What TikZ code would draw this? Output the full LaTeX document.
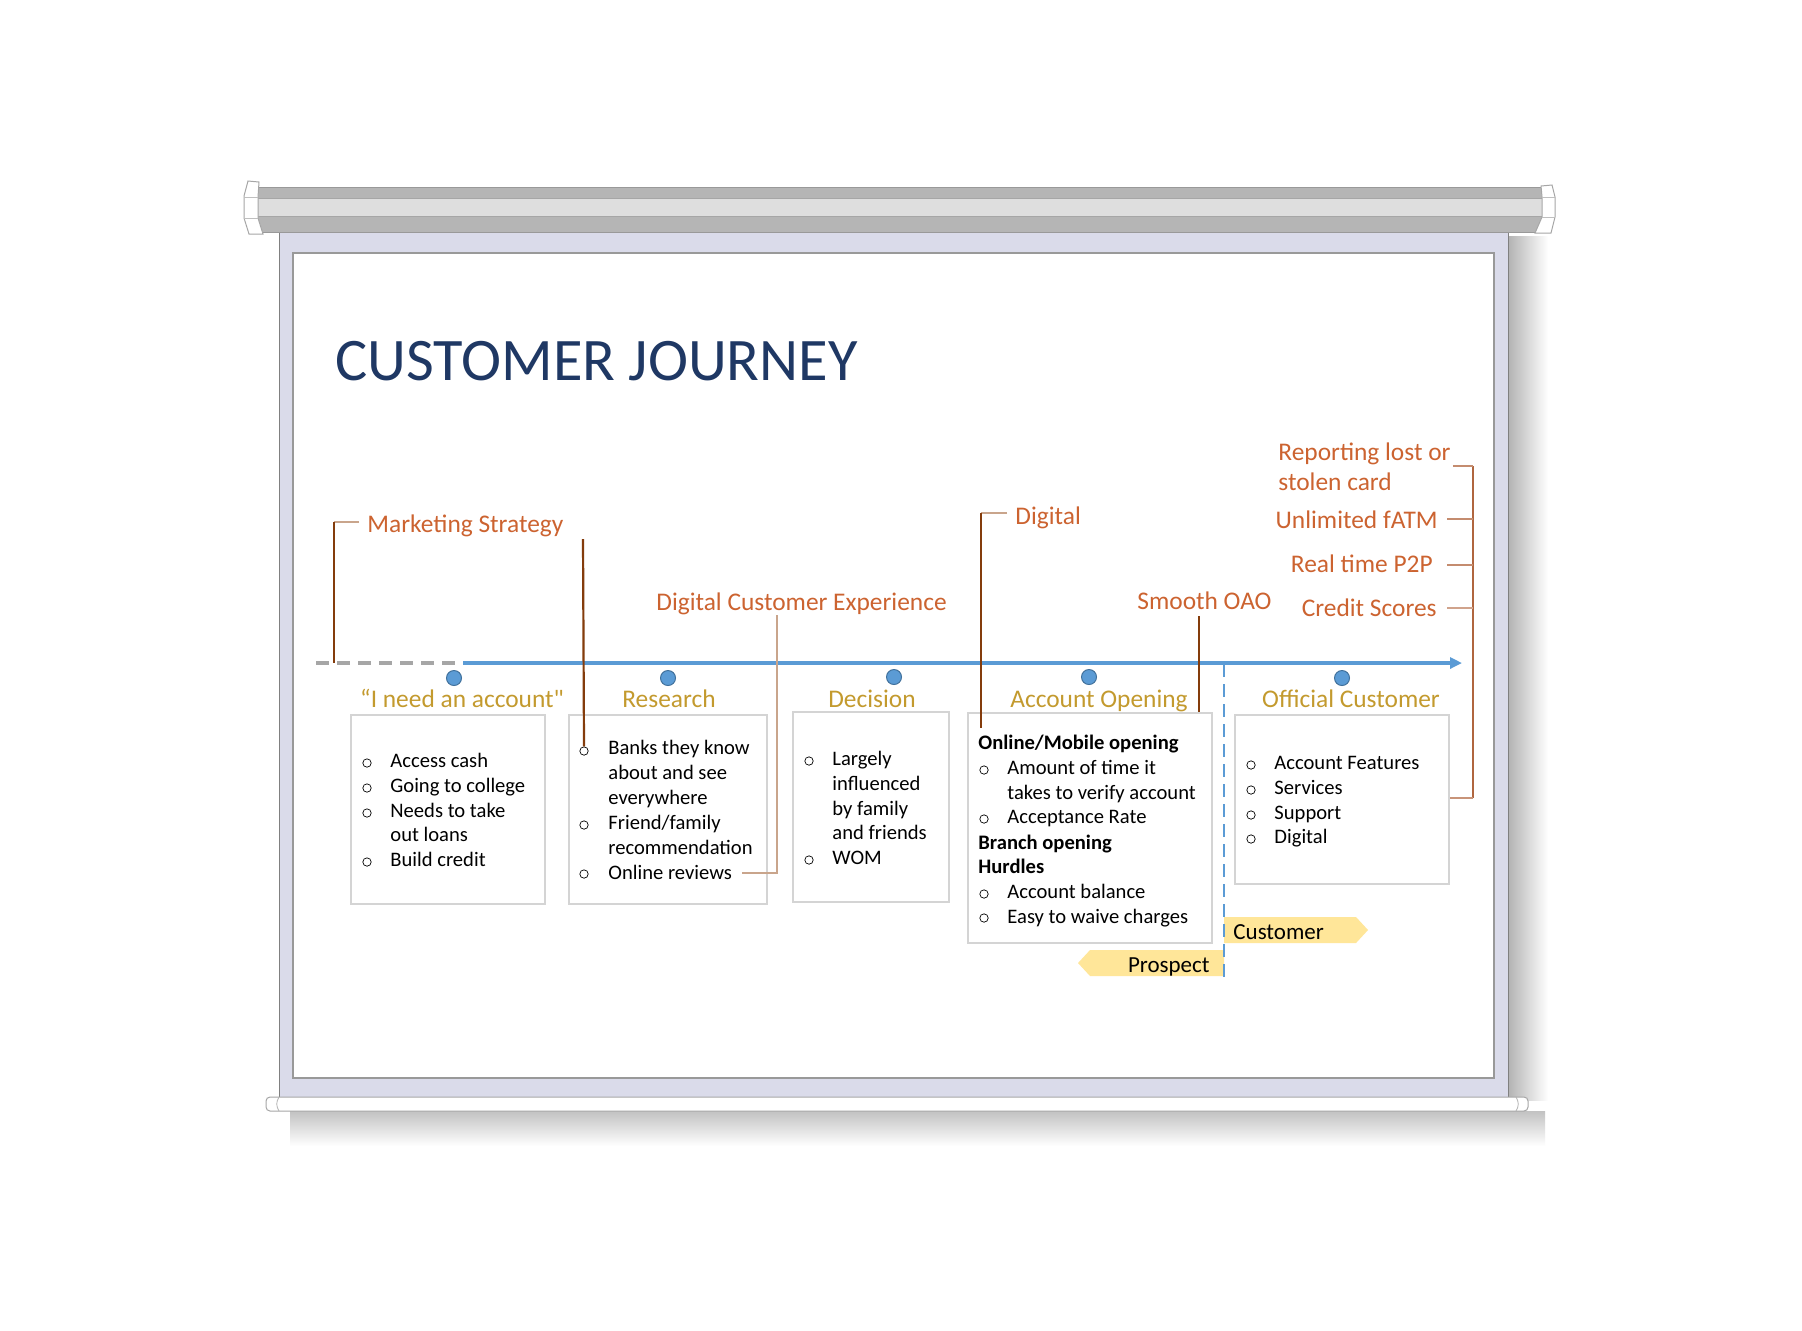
\documentclass[tikz,border=0pt]{standalone}
\usepackage{fontspec}
\setmainfont{Carlito}
\usetikzlibrary{arrows.meta,calc,fit}
\definecolor{navy}{HTML}{1F3864}
\definecolor{orng}{HTML}{CC6330}
\definecolor{goldt}{HTML}{C39A2E}
\definecolor{dbrown}{HTML}{843C0C}
\definecolor{tanl}{HTML}{C9A58C}
\definecolor{mbrown}{HTML}{B0663F}
\definecolor{blu}{HTML}{5B9BD5}
\definecolor{blud}{HTML}{41719C}
\definecolor{lav}{HTML}{DADBEA}
\definecolor{tagy}{HTML}{FFE699}
\definecolor{barg}{HTML}{B5B5B5}
\definecolor{barl}{HTML}{DEDEDE}
\newcommand\straightdq{\XeTeXglyph\XeTeXcharglyph"22\relax}
\begin{document}
\begin{tikzpicture}[x=0.5pt,y=-0.5pt,
  lbl/.style={font=\fontsize{12.7pt}{15pt}\selectfont, text=orng, inner sep=0pt, anchor=base west},
  stage/.style={font=\fontsize{12.7pt}{15pt}\selectfont, text=goldt, inner sep=0pt, anchor=base},
  itm/.style={font=\fontsize{10.3pt}{12.5pt}\selectfont, inner sep=0pt, anchor=base west},
  bitm/.style={font=\fontsize{10.3pt}{12.5pt}\selectfont\bfseries, inner sep=0pt, anchor=base west},
  bul/.style={circle, draw=black, line width=0.35pt, inner sep=0pt, minimum size=4.2pt},
  card/.style={draw=black!17, line width=0.7pt, fill=white, inner sep=0pt},
  dot/.style={circle, fill=blu, draw=blud, line width=0.5pt, inner sep=0pt, minimum size=7.5pt},
  darkc/.style={draw=dbrown, line width=1.1pt},
  tanc/.style={draw=tanl, line width=0.6pt},
  midc/.style={draw=mbrown, line width=0.9pt},
  tagtext/.style={font=\fontsize{11.5pt}{14pt}\selectfont, inner sep=0pt}
]
\useasboundingbox (0,0) rectangle (1802,1330);
\fill[white] (0,0) rectangle (1802,1330);

% ---- shadows
\shade[left color=black!30, right color=white] (1508,236) rectangle (1548,1100);
\shade[top color=black!24, bottom color=white] (290,1111) rectangle (1545,1146);

% ---- screen panel
\fill[lav] (279,232) rectangle (1508,1097);
\draw[black!50, line width=0.5pt] (279,232) -- (279,1097);
\draw[black!50, line width=0.5pt] (1508,232) -- (1508,1097);
\fill[white] (293,253) rectangle (1494,1078);
\draw[black!40, line width=0.6pt] (293,253) rectangle (1494,1078);
\draw[black!40, line width=1.2pt] (293,1078) -- (1494,1078);

% ---- top housing bar
\fill[barg] (258,187) rectangle (1542,232);
\fill[barl] (258,198) rectangle (1542,216);
\draw[black!40, line width=0.4pt] (258,187) -- (1542,187);
\draw[black!35, line width=0.4pt] (258,198) -- (1542,198);
\draw[black!35, line width=0.4pt] (258,216) -- (1542,216);
\draw[black!40, line width=0.4pt] (258,232) -- (1542,232);
\filldraw[fill=white, draw=black!35, line width=0.5pt]
  (1541,186) -- (1552,185) -- (1555,197) -- (1555,217) -- (1551,233) -- (1535,233) -- (1542,217) -- (1542,197) -- cycle;
\draw[black!25, line width=0.4pt] (1542,197) -- (1555,197) (1542,217) -- (1555,217);
\filldraw[fill=white, draw=black!35, line width=0.5pt]
  (259,182) -- (248,181) -- (244,196) -- (244,218) -- (249,234) -- (263,234) -- (258,218) -- (258,197) -- cycle;
\draw[black!25, line width=0.4pt] (244,197) -- (258,197) (244,218) -- (258,218);

% ---- bottom roller
\filldraw[fill=white, draw=black!35, line width=0.5pt, rounded corners=2pt] (266,1097) rectangle (1528,1111);
\draw[black!30, line width=0.4pt] (279,1097) .. controls (276,1102) and (276,1106) .. (279,1111);
\draw[black!30, line width=0.4pt] (1516,1097) .. controls (1519,1102) and (1519,1106) .. (1516,1111);

% ---- title
\node[font=\fontsize{30.2pt}{36pt}\selectfont, text=navy, inner sep=0pt, anchor=base west] (title) at (335,380) {CUSTOMER JOURNEY};

% ---- tags (drawn before dashed line)
\fill[tagy] (1224,917) -- (1356,917) -- (1368,930) -- (1356,943) -- (1224,943) -- cycle;
\node[tagtext, anchor=base west] (cust) at (1233,939) {Customer};
\fill[tagy] (1224,950) -- (1090,950) -- (1078,963) -- (1090,976) -- (1224,976) -- cycle;
\node[tagtext, anchor=base east] (prosp) at (1210,972) {Prospect};

% ---- timeline
\coordinate (tl0) at (316,663);
\coordinate (tl1) at (463,663);
\coordinate (tl2) at (1462,663);
\draw[draw=black!35, line width=2pt, dash pattern=on 6.5pt off 4pt] (tl0) -- (tl1);
\draw[draw=blu, line width=1.6pt, -{Triangle[length=6pt,width=5.5pt]}] (tl1) -- (tl2);
\coordinate (dv0) at (1224,664);
\coordinate (dv1) at (1224,980);
\draw[draw=blu, line width=1.2pt, dash pattern=on 6.5pt off 3.5pt] (dv0) -- (dv1);

% ---- boxes
\node[card, fit={(351,715) (545,904)}] (box1) {};
\node[card, fit={(569,715) (767,904)}] (box2) {};
\node[card, fit={(793,712) (949,902)}] (box3) {};
\node[card, fit={(968,713) (1212,943)}] (box4) {};
\node[card, fit={(1235,715) (1449,884)}] (box5) {};

% ---- dots
\node[dot] (d1) at (454,678) {};
\node[dot] (d2) at (668,678) {};
\node[dot] (d3) at (894,677) {};
\node[dot] (d4) at (1089,677) {};
\node[dot] (d5) at (1342,678) {};

% ---- stage titles
\node[stage] (s1) at (462,707) {“I need an account\straightdq};
\node[stage] (s2) at (669,707) {Research};
\node[stage] (s3) at (872,707) {Decision};
\node[stage] (s4) at (1099,707) {Account Opening};
\node[stage] (s5) at (1351,707) {Official Customer};

% ---- box 1
\node[itm] (t11) at (390,767) {Access cash};
\node[itm] (t12) at (390,792) {Going to college};
\node[itm] (t13) at (390,817) {Needs to take};
\node[itm] (t14) at (390,841) {out loans};
\node[itm] (t15) at (390,866) {Build credit};
\node[bul] (u11) at (367,763) {};
\node[bul] (u12) at (367,788) {};
\node[bul] (u13) at (367,813) {};
\node[bul] (u15) at (367,862) {};

% ---- box 2
\node[itm] (t21) at (608,754) {Banks they know};
\node[itm] (t22) at (608,779) {about and see};
\node[itm] (t23) at (608,804) {everywhere};
\node[itm] (t24) at (608,829) {Friend/family};
\node[itm] (t25) at (608,854) {recommendation};
\node[itm] (t26) at (608,879) {Online reviews};
\node[bul] (u21) at (584,751) {};
\node[bul] (u24) at (584,825) {};
\node[bul] (u26) at (584,874) {};

% ---- box 3
\node[itm] (t31) at (832,765) {Largely};
\node[itm] (t32) at (832,790) {influenced};
\node[itm] (t33) at (832,815) {by family};
\node[itm] (t34) at (832,839) {and friends};
\node[itm] (t35) at (832,864) {WOM};
\node[bul] (u31) at (809,761) {};
\node[bul] (u35) at (809,860) {};

% ---- box 4
\node[bitm] (t41) at (978,749) {Online/Mobile opening};
\node[itm] (t42) at (1007,774) {Amount of time it};
\node[itm] (t43) at (1007,799) {takes to verify account};
\node[itm] (t44) at (1007,823) {Acceptance Rate};
\node[bitm] (t45) at (978,849) {Branch opening};
\node[bitm] (t46) at (978,873) {Hurdles};
\node[itm] (t47) at (1007,898) {Account balance};
\node[itm] (t48) at (1007,923) {Easy to waive charges};
\node[bul] (u42) at (984,770) {};
\node[bul] (u44) at (984,819) {};
\node[bul] (u47) at (984,894) {};
\node[bul] (u48) at (984,918) {};

% ---- box 5
\node[itm] (t51) at (1274,769) {Account Features};
\node[itm] (t52) at (1274,794) {Services};
\node[itm] (t53) at (1274,819) {Support};
\node[itm] (t54) at (1274,843) {Digital};
\node[bul] (u51) at (1251,765) {};
\node[bul] (u52) at (1251,790) {};
\node[bul] (u53) at (1251,815) {};
\node[bul] (u54) at (1251,839) {};

% ---- orange labels
\node[lbl] (mkt) at (367,532) {Marketing Strategy};
\node[lbl] (dce) at (656,610) {Digital Customer Experience};
\node[lbl] (dig) at (1015,524) {Digital};
\node[lbl] (oao) at (1137,609) {Smooth OAO};
\node[lbl] (rep) at (1278,460) {Reporting lost or};
\node[lbl] (rep2) at (1278,490) {stolen card};
\node[lbl, anchor=base east] (atm) at (1438,528) {Unlimited fATM};
\node[lbl, anchor=base east] (p2p) at (1433,572) {Real time P2P};
\node[lbl, anchor=base east] (crs) at (1437,616) {Credit Scores};

% ---- connectors
% marketing strategy
\coordinate (mkA) at ($(mkt.base west)+(-8,-10)$);
\coordinate (mkB) at (334,522);
\coordinate (mkC) at (334,663);
\draw[tanc] (mkA) -- (mkB);
\draw[darkc] (mkB) -- (mkC);
% research line
\coordinate (rsA) at (583,539);
\draw[darkc] (rsA) -- (u21.north);
% digital customer experience
\coordinate (dcA) at (777,615);
\coordinate (dcB) at (777,873);
\coordinate (dcC) at ($(t26.base east)+(10,-6)$);
\draw[tanc] (dcA) -- (dcB) -- (dcC);
% digital
\coordinate (dgA) at ($(dig.base west)+(-8,-11)$);
\coordinate (dgB) at (981,513);
\coordinate (dgC) at (981,728);
\draw[tanc] (dgA) -- (dgB);
\draw[darkc] (dgB) -- (dgC);
% smooth OAO
\coordinate (oaA) at (1199,616);
\draw[darkc] (oaA) -- (oaA |- box4.north);
% right bracket
\coordinate (rb0) at (1473,466);
\coordinate (rb1) at (1473,798);
\draw[midc] (rb0) -- (rb1);
\draw[tanc, draw=mbrown!75] ($(rep.base east)+(2,6)$) -- (rb0);
\draw[tanc, draw=mbrown!75] ($(atm.base east)+(9,-9)$) -- (rb0 |- {$(atm.base east)+(9,-9)$});
\draw[tanc, draw=mbrown!75] ($(p2p.base east)+(14,-7)$) -- (rb0 |- {$(p2p.base east)+(14,-7)$});
\draw[tanc, draw=mbrown!60] ($(crs.base east)+(10,-8)$) -- (rb0 |- {$(crs.base east)+(10,-8)$});
\draw[tanc, draw=mbrown!70] (rb1) -- (rb1 -| box5.east);
\end{tikzpicture}
\end{document}
